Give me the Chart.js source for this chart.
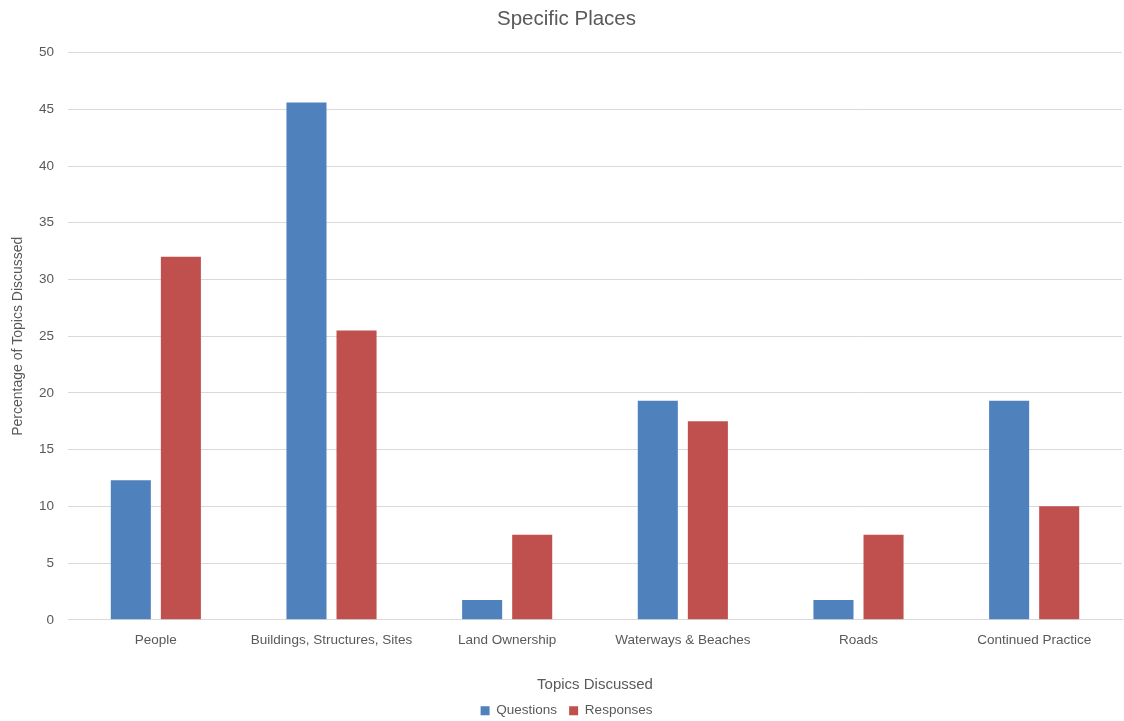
<!DOCTYPE html>
<html><head><meta charset="utf-8">
<script src="https://cdn.jsdelivr.net/npm/chart.js@4"></script>
<style>html,body{margin:0;padding:0;background:#fff;}#wrap{width:1124px;height:721px;}</style>
</head><body><div id="wrap"><canvas id="c" width="1124" height="721"></canvas></div>
<script>
const categories = ["People", "Buildings, Structures, Sites", "Land Ownership", "Waterways & Beaches", "Roads", "Continued Practice"];
const questions = [12.3, 45.6, 1.75, 19.3, 1.75, 19.3];
const responses = [32, 25.5, 7.5, 17.5, 7.5, 10];
const seriesNames = ["Questions", "Responses"];
const FONT = "'Liberation Sans', Arial, sans-serif";
const grey = '#595959';
new Chart(document.getElementById('c'), {
  type: 'bar',
  data: {
    labels: categories,
    datasets: [
      {label: seriesNames[0], data: questions, backgroundColor: '#4F81BD', categoryPercentage: 0.57, barPercentage: 0.8},
      {label: seriesNames[1], data: responses, backgroundColor: '#C0504D', categoryPercentage: 0.57, barPercentage: 0.8}
    ]
  },
  options: {
    responsive: false,
    animation: false,
    layout: {padding: {left: 11, right: 2, top: 4, bottom: 0}},
    plugins: {
      title: {display: true, text: 'Specific Places', color: grey, font: {family: FONT, size: 20.5, weight: 'normal'}, padding: {top: 3, bottom: 21}},
      legend: {position: 'bottom', maxHeight: 29, labels: {color: grey, font: {family: FONT, size: 13.5, lineHeight: 1}, boxWidth: 9, boxHeight: 9, padding: 12}},
      tooltip: {enabled: false}
    },
    scales: {
      x: {
        grid: {display: false},
        border: {color: '#D9D9D9'},
        ticks: {color: grey, font: {family: FONT, size: 13.5}, maxRotation: 0, padding: 4},
        title: {display: true, text: 'Topics Discussed', color: grey, font: {family: FONT, size: 15, lineHeight: 1}, padding: {top: 25, bottom: 0}}
      },
      y: {
        min: 0, max: 50,
        ticks: {stepSize: 5, color: grey, font: {family: FONT, size: 13.5}, padding: 14},
        grid: {color: '#D9D9D9', drawTicks: false},
        border: {display: false},
        title: {display: true, text: 'Percentage of Topics Discussed', color: grey, font: {family: FONT, size: 14, lineHeight: 1}, padding: {top: 0, bottom: 0}}
      }
    }
  }
});
</script></body></html>
